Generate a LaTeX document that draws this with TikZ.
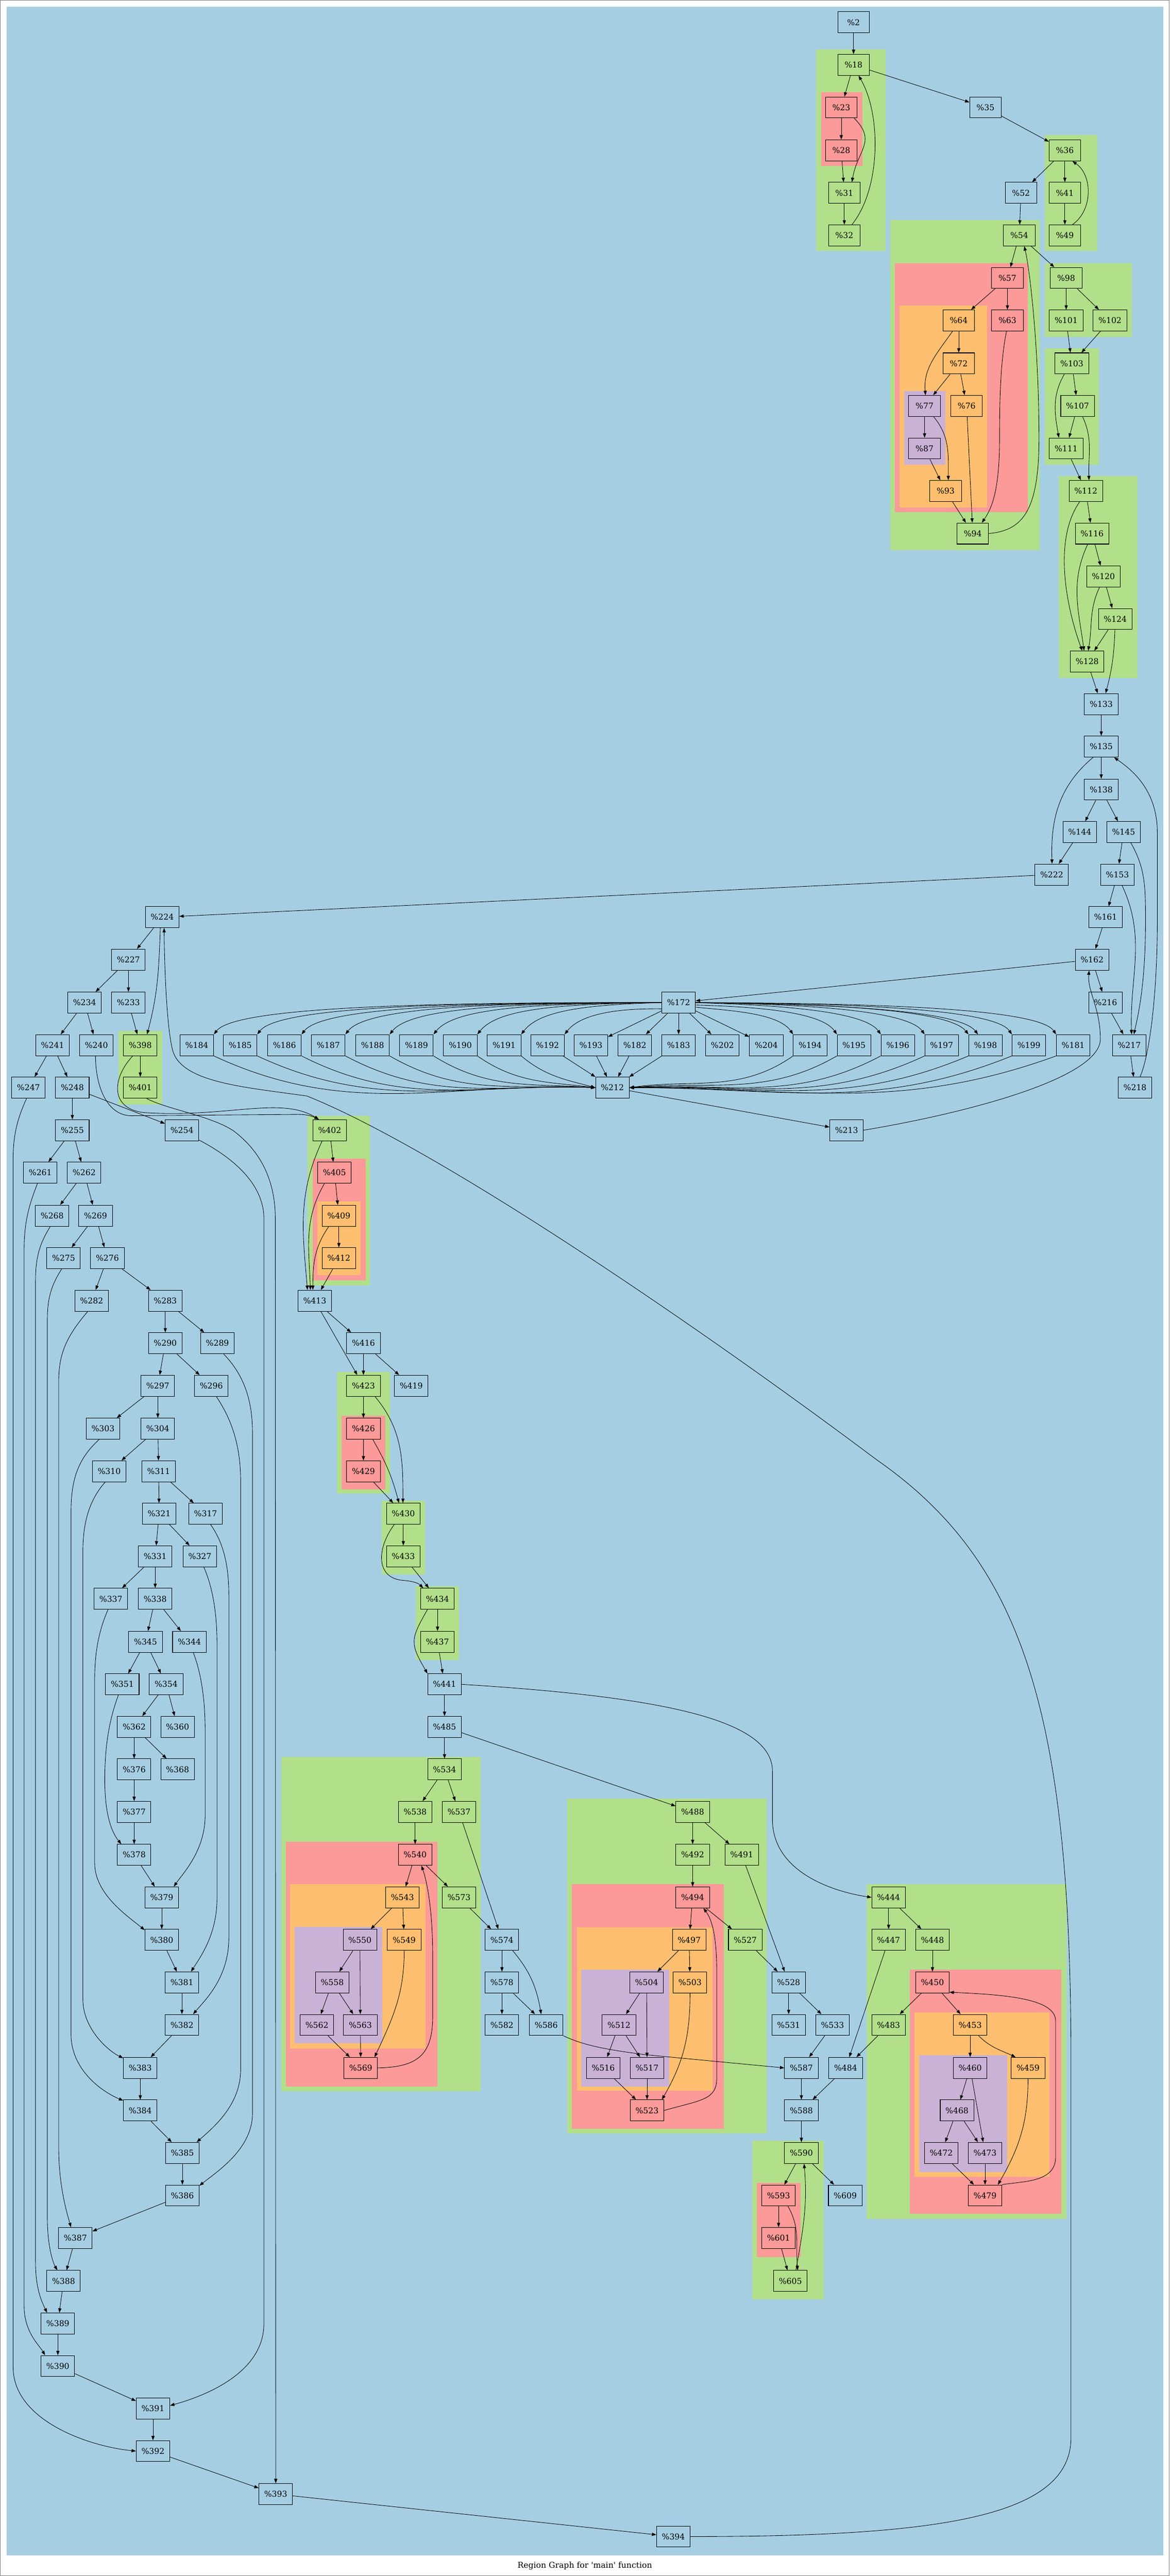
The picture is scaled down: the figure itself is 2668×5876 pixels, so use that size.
\documentclass[tikz,border=0pt]{standalone}
\usepackage{fontspec}
\setmainfont{DejaVu Serif}
\usetikzlibrary{arrows.meta}
\definecolor{lblue}{HTML}{A6CEE3}
\definecolor{lgreen}{HTML}{B2DF8A}
\definecolor{lpink}{HTML}{FB9A99}
\definecolor{lorange}{HTML}{FDBF6F}
\definecolor{lpurple}{HTML}{CAB2D6}
\begin{document}
\begin{tikzpicture}[x=0.5pt,y=-0.5pt,
    nbox/.style={draw,line width=0.6pt,minimum width=36pt,minimum height=24pt,
      inner xsep=6pt,inner ysep=0pt,font=\fontsize{9.2}{11}\selectfont},
    lb/.style={nbox,fill=lblue},
    gr/.style={nbox,fill=lgreen},
    pk/.style={nbox,fill=lpink},
    og/.style={nbox,fill=lorange},
    pu/.style={nbox,fill=lpurple},
    link/.style={-{Triangle[length=5pt,width=3.6pt]},line width=0.5pt}]
  \useasboundingbox (0,0) rectangle (2668,5876);
  \draw[gray,line width=0.5pt] (0.5,0.5) rectangle (2667.5,5875.5);
  \fill[lblue] (15,15) rectangle (2653,5829);
  % regions
  \fill[lgreen] (1862,113) rectangle (2020,572);
  \fill[lpink] (1873,210) rectangle (1967,379);
  \fill[lgreen] (2383,308) rectangle (2503,572);
  \fill[lgreen] (2031,502) rectangle (2372,1255);
  \fill[lpink] (2041,600) rectangle (2345,1168);
  \fill[lorange] (2052,697) rectangle (2252,1158);
  \fill[lpurple] (2062,892) rectangle (2156,1060);
  \fill[lgreen] (2383,600) rectangle (2582,768);
  \fill[lgreen] (2383,794) rectangle (2507,1060);
  \fill[lgreen] (2415,1086) rectangle (2595,1546);
  \fill[lgreen] (270,2352) rectangle (370,2520);
  \fill[lgreen] (702,2546) rectangle (844,2932);
  \fill[lpink] (713,2643) rectangle (834,2920);
  \fill[lorange] (724,2741) rectangle (823,2909);
  \fill[lgreen] (769,3130) rectangle (890,3407);
  \fill[lpink] (779,3229) rectangle (879,3397);
  \fill[lgreen] (871,3423) rectangle (970,3591);
  \fill[lgreen] (948,3618) rectangle (1047,3786);
  \fill[lgreen] (642,4007) rectangle (1096,4770);
  \fill[lpink] (652,4201) rectangle (998,4759);
  \fill[lorange] (662,4298) rectangle (971,4672);
  \fill[lpurple] (672,4395) rectangle (872,4661);
  \fill[lgreen] (1294,4103) rectangle (1749,4866);
  \fill[lpink] (1305,4298) rectangle (1651,4856);
  \fill[lorange] (1316,4396) rectangle (1625,4769);
  \fill[lpurple] (1326,4493) rectangle (1526,4759);
  \fill[lgreen] (1977,4298) rectangle (2433,5061);
  \fill[lpink] (2075,4493) rectangle (2421,5050);
  \fill[lorange] (2086,4590) rectangle (2394,4965);
  \fill[lpurple] (2097,4688) rectangle (2297,4954);
  \fill[lgreen] (1716,4883) rectangle (1879,5245);
  \fill[lpink] (1726,4979) rectangle (1826,5148);
  % blocks
  \path
    (1947,51) node[lb] (2){\%2}
    (1947,148) node[gr] (18){\%18}
    (1919,245) node[pk] (23){\%23}
    (2248,245) node[lb] (35){\%35}
    (1919,343) node[pk] (28){\%28}
    (2429,343) node[gr] (36){\%36}
    (1926,440) node[gr] (31){\%31}
    (2329,440) node[lb] (52){\%52}
    (2429,440) node[gr] (41){\%41}
    (1926,537) node[gr] (32){\%32}
    (2325,537) node[gr] (54){\%54}
    (2429,537) node[gr] (49){\%49}
    (2298,634) node[pk] (57){\%57}
    (2432,634) node[gr] (98){\%98}
    (2187,731) node[og] (64){\%64}
    (2298,731) node[pk] (63){\%63}
    (2432,731) node[gr] (101){\%101}
    (2532,731) node[gr] (102){\%102}
    (2187,829) node[og] (72){\%72}
    (2445,829) node[gr] (103){\%103}
    (2109,926) node[pu] (77){\%77}
    (2205,926) node[og] (76){\%76}
    (2458,926) node[gr] (107){\%107}
    (2109,1023) node[pu] (87){\%87}
    (2432,1023) node[gr] (111){\%111}
    (2157,1120) node[og] (93){\%93}
    (2477,1120) node[gr] (112){\%112}
    (2219,1217) node[gr] (94){\%94}
    (2491,1217) node[gr] (116){\%116}
    (2517,1315) node[gr] (120){\%120}
    (2544,1412) node[gr] (124){\%124}
    (2480,1509) node[gr] (128){\%128}
    (2512,1606) node[lb] (133){\%133}
    (2512,1703) node[lb] (135){\%135}
    (2512,1801) node[lb] (138){\%138}
    (2463,1898) node[lb] (144){\%144}
    (2563,1898) node[lb] (145){\%145}
    (2399,1995) node[lb] (222){\%222}
    (2549,1995) node[lb] (153){\%153}
    (370,2092) node[lb] (224){\%224}
    (2522,2092) node[lb] (161){\%161}
    (293,2189) node[lb] (227){\%227}
    (2491,2189) node[lb] (162){\%162}
    (193,2287) node[lb] (234){\%234}
    (293,2287) node[lb] (233){\%233}
    (1548,2287) node[lb] (172){\%172}
    (2522,2287) node[lb] (216){\%216};
  \path
    (120,2384) node[lb] (241){\%241}
    (220,2384) node[lb] (240){\%240}
    (320,2384) node[gr] (398){\%398}
    (449,2384) node[lb] (184){\%184}
    (548,2384) node[lb] (185){\%185}
    (649,2384) node[lb] (186){\%186}
    (749,2384) node[lb] (187){\%187}
    (850,2384) node[lb] (188){\%188}
    (950,2384) node[lb] (189){\%189}
    (1050,2384) node[lb] (190){\%190}
    (1150,2384) node[lb] (191){\%191}
    (1249,2384) node[lb] (192){\%192}
    (1348,2384) node[lb] (193){\%193}
    (1448,2384) node[lb] (182){\%182}
    (1548,2384) node[lb] (183){\%183}
    (1648,2384) node[lb] (202){\%202}
    (1748,2384) node[lb] (204){\%204}
    (1848,2384) node[lb] (194){\%194}
    (1948,2384) node[lb] (195){\%195}
    (2048,2384) node[lb] (196){\%196}
    (2148,2384) node[lb] (197){\%197}
    (2248,2384) node[lb] (198){\%198}
    (2347,2384) node[lb] (199){\%199}
    (2448,2384) node[lb] (181){\%181}
    (2576,2384) node[lb] (217){\%217}
    (65,2481) node[lb] (247){\%247}
    (165,2481) node[lb] (248){\%248}
    (320,2481) node[gr] (401){\%401}
    (1397,2481) node[lb] (212){\%212}
    (2589,2481) node[lb] (218){\%218}
    (165,2578) node[lb] (255){\%255}
    (415,2578) node[lb] (254){\%254}
    (752,2578) node[gr] (402){\%402}
    (1931,2578) node[lb] (213){\%213}
    (92,2675) node[lb] (261){\%261}
    (192,2675) node[lb] (262){\%262}
    (763,2675) node[pk] (405){\%405}
    (119,2773) node[lb] (268){\%268}
    (218,2773) node[lb] (269){\%269}
    (773,2773) node[og] (409){\%409}
    (145,2870) node[lb] (275){\%275}
    (245,2870) node[lb] (276){\%276}
    (773,2870) node[og] (412){\%412}
    (209,2967) node[lb] (282){\%282}
    (377,2967) node[lb] (283){\%283}
    (718,2967) node[lb] (413){\%413}
    (377,3064) node[lb] (290){\%290}
    (496,3064) node[lb] (289){\%289}
    (829,3064) node[lb] (416){\%416}
    (360,3161) node[lb] (297){\%297}
    (482,3161) node[lb] (296){\%296}
    (829,3161) node[gr] (423){\%423}
    (938,3161) node[lb] (419){\%419}
    (235,3259) node[lb] (303){\%303}
    (360,3259) node[lb] (304){\%304}
    (829,3259) node[pk] (426){\%426}
    (249,3356) node[lb] (310){\%310}
    (362,3356) node[lb] (311){\%311}
    (829,3356) node[pk] (429){\%429}
    (363,3453) node[lb] (321){\%321}
    (469,3453) node[lb] (317){\%317}
    (920,3453) node[gr] (430){\%430}
    (354,3550) node[lb] (331){\%331}
    (456,3550) node[lb] (327){\%327}
    (920,3550) node[gr] (433){\%433}
    (253,3647) node[lb] (337){\%337}
    (354,3647) node[lb] (338){\%338}
    (998,3647) node[gr] (434){\%434}
    (332,3745) node[lb] (345){\%345}
    (432,3745) node[lb] (344){\%344}
    (998,3745) node[gr] (437){\%437}
    (279,3842) node[lb] (351){\%351}
    (379,3842) node[lb] (354){\%354}
    (1014,3842) node[lb] (441){\%441}
    (306,3939) node[lb] (362){\%362}
    (405,3939) node[lb] (360){\%360}
    (1014,3939) node[lb] (485){\%485}
    (306,4036) node[lb] (376){\%376}
    (405,4036) node[lb] (368){\%368}
    (1014,4036) node[gr] (534){\%534};
  \path
    (306,4133) node[lb] (377){\%377}
    (947,4133) node[gr] (538){\%538}
    (1047,4133) node[gr] (537){\%537}
    (1580,4133) node[gr] (488){\%488}
    (306,4231) node[lb] (378){\%378}
    (947,4231) node[pk] (540){\%540}
    (1580,4231) node[gr] (492){\%492}
    (1692,4231) node[gr] (491){\%491}
    (369,4328) node[lb] (379){\%379}
    (918,4328) node[og] (543){\%543}
    (1047,4328) node[gr] (573){\%573}
    (1580,4328) node[pk] (494){\%494}
    (2027,4328) node[gr] (444){\%444}
    (369,4425) node[lb] (380){\%380}
    (821,4425) node[pu] (550){\%550}
    (922,4425) node[og] (549){\%549}
    (1145,4425) node[lb] (574){\%574}
    (1572,4425) node[og] (497){\%497}
    (1700,4425) node[gr] (527){\%527}
    (2027,4425) node[gr] (447){\%447}
    (2127,4425) node[gr] (448){\%448}
    (415,4522) node[lb] (381){\%381}
    (758,4522) node[pu] (558){\%558}
    (1145,4522) node[lb] (578){\%578}
    (1475,4522) node[pu] (504){\%504}
    (1574,4522) node[og] (503){\%503}
    (1799,4522) node[lb] (528){\%528}
    (2127,4522) node[pk] (450){\%450}
    (415,4619) node[lb] (382){\%382}
    (723,4619) node[pu] (562){\%562}
    (822,4619) node[pu] (563){\%563}
    (1145,4619) node[lb] (582){\%582}
    (1246,4619) node[lb] (586){\%586}
    (1412,4619) node[pu] (512){\%512}
    (1799,4619) node[lb] (531){\%531}
    (1899,4619) node[lb] (533){\%533}
    (2027,4619) node[gr] (483){\%483}
    (2213,4619) node[og] (453){\%453}
    (320,4717) node[lb] (383){\%383}
    (823,4717) node[pk] (569){\%569}
    (1376,4717) node[pu] (516){\%516}
    (1476,4717) node[pu] (517){\%517}
    (1828,4717) node[lb] (587){\%587}
    (1929,4717) node[lb] (484){\%484}
    (2213,4717) node[pu] (460){\%460}
    (2345,4717) node[og] (459){\%459}
    (320,4814) node[lb] (384){\%384}
    (1476,4814) node[pk] (523){\%523}
    (1828,4814) node[lb] (588){\%588}
    (2183,4814) node[pu] (468){\%468}
    (416,4911) node[lb] (385){\%385}
    (1828,4911) node[gr] (590){\%590}
    (2147,4911) node[pu] (472){\%472}
    (2247,4911) node[pu] (473){\%473}
    (416,5008) node[lb] (386){\%386}
    (1776,5008) node[pk] (593){\%593}
    (1928,5008) node[lb] (609){\%609}
    (2247,5008) node[pk] (479){\%479}
    (172,5105) node[lb] (387){\%387}
    (1776,5105) node[pk] (601){\%601}
    (145,5203) node[lb] (388){\%388}
    (1803,5203) node[gr] (605){\%605}
    (132,5300) node[lb] (389){\%389}
    (132,5397) node[lb] (390){\%390}
    (349,5494) node[lb] (391){\%391}
    (349,5591) node[lb] (392){\%392}
    (629,5689) node[lb] (393){\%393}
    (1536,5786) node[lb] (394){\%394};
  \begin{scope}[link]
    % top
    \draw (2) to (18);
    \draw (18) to (23);
    \draw (18) to (35);
    \draw (23) to (28);
    \draw (23.-40) to[out=-45,in=80,looseness=1.3] (31.55);
    \draw (28) to (31);
    \draw (31) to (32);
    \draw (32.55) .. controls (2010,430) and (2010,260) .. (18.-65);
    \draw (35) to (36);
    \draw (36) to (52);
    \draw (36) to (41);
    \draw (41) to (49);
    \draw (49.55) .. controls (2493,480) and (2493,400) .. (36.-55);
    \draw (52) to (54);
    \draw (54) to (57);
    \draw (54) to (98);
    \draw (57) to (64);
    \draw (57) to (63);
    \draw (64) to (72);
    \draw (64.-120) to[out=-125,in=95] (77.85);
    \draw (72) to (77);
    \draw (72) to (76);
    \draw (77) to (87);
    \draw (77.-50) to[out=-50,in=90] (93.76);
    \draw (87) to (93);
    \draw (93) to (94);
    \draw (76) to (94);
    \draw (63.-95) .. controls (2283,820) and (2280,900) .. (2280,1000)
      .. controls (2280,1120) and (2262,1160) .. (94.50);
    \draw (94.east) .. controls (2330,1210) and (2370,1170) .. (2370,1000)
      .. controls (2370,800) and (2350,620) .. (54.-65);
    \draw (98) to (101);
    \draw (98) to (102);
    \draw (101) to (103);
    \draw (102) to (103);
    \draw (103) to (107);
    \draw (103.-125) to[out=-120,in=100] (111.124);
    \draw (107) to (111);
    \draw (107.-65) to[out=-65,in=92] (112.74);
    \draw (111) to (112);
    \draw (112) to (116);
    \draw (112.-120) to[out=-125,in=110,looseness=0.8] (128.115);
    \draw (116) to (120);
    \draw (116.-112) to[out=-115,in=98] (128.106);
    \draw (120) to (124);
    \draw (120.-110) to[out=-115,in=80] (128.85);
    \draw (124) to (128);
    \draw (124.-92) to[out=-92,in=75] (133.68);
    \draw (128) to (133);
    \draw (133) to (135);
    \draw (135) to (138);
    \draw (135.-127) to[out=-140,in=92] (222.88);
    \draw (138) to (144);
    \draw (138) to (145);
    \draw (144) to (222);
    \draw (145) to (153);
    \draw (145.-56) .. controls (2612,1980) and (2613,2020) .. (2613,2100)
      .. controls (2613,2250) and (2595,2320) .. (217.67);
    \draw (153) to (161);
    \draw (153.-67) to[out=-65,in=92] (217.78);
    \draw (161) to (162);
    \draw (162) to (172);
    \draw (162) to (216);
    \draw (216) to (217);
    \draw (217) to (218);
    \draw (218.65) .. controls (2625,2400) and (2640,2250) .. (2640,2100) -- (2640,1900)
      .. controls (2640,1800) and (2580,1755) .. (135.-40);
    \draw (222) to (224);
    % switch
    \draw (172.west) .. controls (950,2286) and (535,2298) .. (184.north east);
    \draw (172.west) .. controls (1000,2286) and (634,2298) .. (185.north east);
    \draw (172.west) .. controls (1050,2287) and (735,2299) .. (186.north east);
    \draw (172.west) .. controls (1100,2287) and (835,2299) .. (187.north east);
    \draw (172.west) .. controls (1150,2288) and (936,2300) .. (188.north east);
    \draw (172.west) .. controls (1200,2289) and (1036,2301) .. (189.north east);
    \draw (172.west) .. controls (1260,2290) and (1134,2303) .. (190.north east);
    \draw (172.west) .. controls (1330,2292) and (1230,2306) .. (191.north east);
    \draw (172.200) .. controls (1410,2300) and (1325,2312) .. (192.north east);
    \draw (172) to (193);
    \draw (172) to (182);
    \draw (172) to (183);
    \draw (172) to (202);
    \draw (172) to (204);
    \draw (172.-15) .. controls (1660,2305) and (1775,2310) .. (194.north west);
    \draw (172.-8) .. controls (1700,2296) and (1870,2304) .. (195.north west);
    \draw (172.east) .. controls (1740,2292) and (1968,2302) .. (196.north west);
    \draw (172.east) .. controls (1790,2290) and (2066,2300) .. (197.north west);
    \draw (172.east) .. controls (1830,2289) and (2160,2298) .. (198.north west);
    \draw (172.east) .. controls (1850,2290) and (2185,2300) .. (198.125);
    \draw (172.east) .. controls (1880,2288) and (2265,2297) .. (199.north west);
    \draw (172.east) .. controls (1930,2288) and (2366,2296) .. (181.north west);
    \draw (184.south east) to[out=-25,in=178] (212.west);
    \draw (185.south east) to[out=-25,in=178] (212.west);
    \draw (186.south east) to[out=-27,in=178] (212.west);
    \draw (187.south east) to[out=-28,in=178] (212.west);
    \draw (188.south east) to[out=-30,in=177] (212.west);
    \draw (189.south east) to[out=-32,in=176] (212.west);
    \draw (190.south east) to[out=-35,in=173] (212.west);
    \draw (191.south east) to[out=-40,in=165] (212.west);
    \draw (192.-35) to (212.north west);
    \draw (193) to (212);
    \draw (182) to (212);
    \draw (183) to (212);
    \draw (194.south west) to[out=-145,in=8] (212.east);
    \draw (195.south west) to[out=-150,in=5] (212.east);
    \draw (196.south west) to[out=-152,in=3] (212.east);
    \draw (197.south west) to[out=-155,in=2] (212.east);
    \draw (198.south west) to[out=-157,in=1] (212.east);
    \draw (199.south west) to[out=-158,in=0] (212.east);
    \draw (181.south west) to[out=-160,in=0] (212.east);
    \draw (212) to (213);
    \draw (213.east) .. controls (2200,2540) and (2510,2460) .. (2510,2370)
      .. controls (2510,2300) and (2480,2260) .. (162.-105);
    % left chain
    \draw (224) to (227);
    \draw (227) to (234);
    \draw (227) to (233);
    \draw (234) to (241);
    \draw (234) to (240);
    \draw (233) to (398);
    \draw (224.-100) to[out=-92,in=75] (398.58);
    \draw (398) to (401);
    \draw (241) to (247);
    \draw (241) to (248);
    \draw (248) to (255);
    \draw (248) to (254);
    \draw (255) to (261);
    \draw (255) to (262);
    \draw (262) to (268);
    \draw (262) to (269);
    \draw (269) to (275);
    \draw (269) to (276);
    \draw (276) to (282);
    \draw (276) to (283);
    \draw (283) to (290);
    \draw (283) to (289);
    \draw (290) to (297);
    \draw (290) to (296);
    \draw (297) to (303);
    \draw (297) to (304);
    \draw (304) to (310);
    \draw (304) to (311);
    \draw (311) to (321);
    \draw (311) to (317);
    \draw (321) to (331);
    \draw (321) to (327);
    \draw (331) to (337);
    \draw (331) to (338);
    \draw (338) to (345);
    \draw (338) to (344);
    \draw (345) to (351);
    \draw (345) to (354);
    \draw (354) to (362);
    \draw (354) to (360);
    \draw (362) to (376);
    \draw (362) to (368);
    \draw (376) to (377);
    \draw (377) to (378);
    \draw (378) to (379);
    \draw (379) to (380);
    \draw (380) to (381);
    \draw (381) to (382);
    \draw (382) to (383);
    \draw (383) to (384);
    \draw (384) to (385);
    \draw (385) to (386);
    \draw (386) to (387);
    \draw (387) to (388);
    \draw (388) to (389);
    \draw (389) to (390);
    \draw (390) to (391);
    \draw (391) to (392);
    \draw (392) to (393);
    \draw (393) to (394);
    \draw (247.-100) .. controls (45,2540) and (30,2580) .. (30,2640) -- (30,5400)
      .. controls (30,5520) and (200,5580) .. (392.west);
    \draw (261.-105) .. controls (70,2740) and (55,2780) .. (55,2850) -- (55,5260)
      .. controls (55,5320) and (90,5350) .. (390.140);
    \draw (268.-100) .. controls (95,2830) and (81,2860) .. (81,2920) -- (81,5160)
      .. controls (81,5220) and (95,5250) .. (389.135);
    \draw (275.-100) .. controls (118,2930) and (108,2960) .. (108,3010) -- (108,5060)
      .. controls (108,5120) and (120,5160) .. (388.120);
    \draw (282.-110) .. controls (150,3050) and (134,3090) .. (134,3150) -- (134,4900)
      .. controls (134,4980) and (150,5040) .. (387.112);
    \draw (303.-110) .. controls (175,3330) and (162,3380) .. (162,3450) -- (162,4640)
      .. controls (162,4720) and (230,4770) .. (384.150);
    \draw (310.-110) .. controls (205,3420) and (189,3470) .. (189,3540) -- (189,4560)
      .. controls (189,4630) and (250,4680) .. (383.150);
    \draw (337.-105) .. controls (225,3720) and (216,3770) .. (216,3830) -- (216,4250)
      .. controls (216,4320) and (290,4370) .. (380.150);
    \draw (351.-110) .. controls (250,3920) and (239,3980) .. (239,4060)
      .. controls (239,4140) and (255,4180) .. (378.140);
    \draw (344.-70) .. controls (460,3820) and (468,3880) .. (468,3950) -- (468,4140)
      .. controls (468,4220) and (420,4270) .. (379.42);
    \draw (327.-70) .. controls (485,3620) and (495,3680) .. (495,3750) -- (495,4330)
      .. controls (495,4410) and (460,4460) .. (381.50);
    \draw (317.-65) .. controls (510,3520) and (522,3570) .. (522,3640) -- (522,4420)
      .. controls (522,4510) and (470,4560) .. (382.44);
    \draw (296.-65) .. controls (530,3240) and (549,3300) .. (549,3380) -- (549,4720)
      .. controls (549,4800) and (490,4850) .. (385.37);
    \draw (289.-60) .. controls (560,3140) and (576,3200) .. (576,3270) -- (576,4820)
      .. controls (576,4900) and (500,4950) .. (386.30);
    \draw (254.-30) .. controls (530,2640) and (602,2700) .. (602,2780) -- (602,5300)
      .. controls (602,5420) and (450,5470) .. (391.10);
    \draw (401.-60) .. controls (380,2530) and (480,2545) .. (532,2579)
      .. controls (600,2630) and (628,2700) .. (628,2780) -- (393.north);
    \draw (240.-95) .. controls (218,2480) and (245,2545) .. (300,2545) -- (680,2542)
      .. controls (700,2542) and (712,2546) .. (402.135);
    \draw (398.-125) .. controls (255,2460) and (250,2530) .. (330,2538)
      .. controls (520,2550) and (640,2500) .. (402.135);
    \draw (394.east) .. controls (2150,5786) and (2443,5740) .. (2443,5560) -- (2443,4700)
      .. controls (2443,3900) and (2330,3560) .. (2000,3330)
      .. controls (1600,3030) and (1000,2620) .. (700,2500)
      .. controls (560,2480) and (420,2470) .. (395,2400)
      .. controls (380,2350) and (375,2200) .. (224.-80);
    % middle
    \draw (402) to (405);
    \draw (402.-125) to[out=-115,in=95] (413.124);
    \draw (405) to (409);
    \draw (405.-133) to[out=-120,in=92] (413.112);
    \draw (409) to (412);
    \draw (409.-133) to[out=-125,in=90] (413.100);
    \draw (412) to (413);
    \draw (413) to (416);
    \draw (413) to (423);
    \draw (416) to (423);
    \draw (416) to (419);
    \draw (423) to (426);
    \draw (423.-43) to[out=-50,in=90] (430.92);
    \draw (426) to (429);
    \draw (426.-49) to[out=-60,in=105] (430.112);
    \draw (429) to (430);
    \draw (430) to (433);
    \draw (430.-130) .. controls (860,3530) and (855,3600) .. (920,3605)
      .. controls (945,3607) and (955,3612) .. (434.143);
    \draw (433) to (434);
    \draw (434) to (437);
    \draw (434.-133) to[out=-120,in=120,looseness=1.4] (441.north west);
    \draw (437) to (441);
    \draw (441) to (485);
    \draw (441.east) .. controls (1500,3870) and (1762,3920) .. (1762,4040) -- (1762,4150)
      .. controls (1762,4270) and (1900,4315) .. (444.west);
    \draw (485) to (534);
    \draw (485) to (488);
    % region of 534
    \draw (534) to (538);
    \draw (534) to (537);
    \draw (538) to (540);
    \draw (537) to (574);
    \draw (540) to (543);
    \draw (540) to (573);
    \draw (543) to (550);
    \draw (543) to (549);
    \draw (550) to (558);
    \draw (550) to (563);
    \draw (558) to (562);
    \draw (558) to (563);
    \draw (562) to (569);
    \draw (563) to (569);
    \draw (549.south) to[out=-90,in=65] (569.38);
    \draw (569.east) .. controls (950,4715) and (987,4690) .. (987,4600) -- (987,4460)
      .. controls (987,4350) and (972,4285) .. (540.-60);
    \draw (573) to (574);
    \draw (574) to (578);
    \draw (574.-45) to[out=-50,in=100] (586.115);
    \draw (578) to (582);
    \draw (578) to (586);
    \draw (586.south east) .. controls (1330,4665) and (1380,4675) .. (1474,4687) -- (587.west);
    % region of 488
    \draw (488) to (492);
    \draw (488) to (491);
    \draw (492) to (494);
    \draw (491) to (528);
    \draw (494) to (497);
    \draw (494) to (527);
    \draw (497) to (504);
    \draw (497) to (503);
    \draw (504) to (512);
    \draw (504) to (517);
    \draw (512) to (516);
    \draw (512) to (517);
    \draw (516) to (523);
    \draw (517) to (523);
    \draw (503.south) to[out=-90,in=60] (523.36);
    \draw (523.east) .. controls (1600,4790) and (1635,4790) .. (1635,4740) -- (1635,4500)
      .. controls (1635,4420) and (1625,4380) .. (494.-45);
    \draw (527) to (528);
    \draw (528) to (531);
    \draw (528) to (533);
    \draw (533) to (587);
    \draw (587) to (588);
    \draw (484) to (588);
    \draw (588) to (590);
    % region of 444
    \draw (444) to (447);
    \draw (444) to (448);
    \draw (447) to (484);
    \draw (448) to (450);
    \draw (450) to (483);
    \draw (450) to (453);
    \draw (483) to (484);
    \draw (453) to (460);
    \draw (453.-52) to[out=-45,in=155] (459.139);
    \draw (460) to (468);
    \draw (460) to (473);
    \draw (468) to (472);
    \draw (468) to (473);
    \draw (472) to (479);
    \draw (473) to (479);
    \draw (459.south) to[out=-90,in=60] (479.40);
    \draw (479.north east) .. controls (2330,4975) and (2408,4980) .. (2408,4920) -- (2408,4610)
      .. controls (2408,4560) and (2300,4550) .. (450.-30);
    % region of 590
    \draw (590) to (593);
    \draw (590) to (609);
    \draw (593) to (601);
    \draw (593.-49) to[out=-60,in=95] (605.56);
    \draw (601) to (605);
    \draw (605.63) to[out=80,in=-85] (590.-76);
  \end{scope}
  \node (title) at (1334,5853) [font=\fontsize{9.2}{11}\selectfont]
    {Region Graph for \textquotesingle main\textquotesingle{} function};
\end{tikzpicture}
\end{document}
